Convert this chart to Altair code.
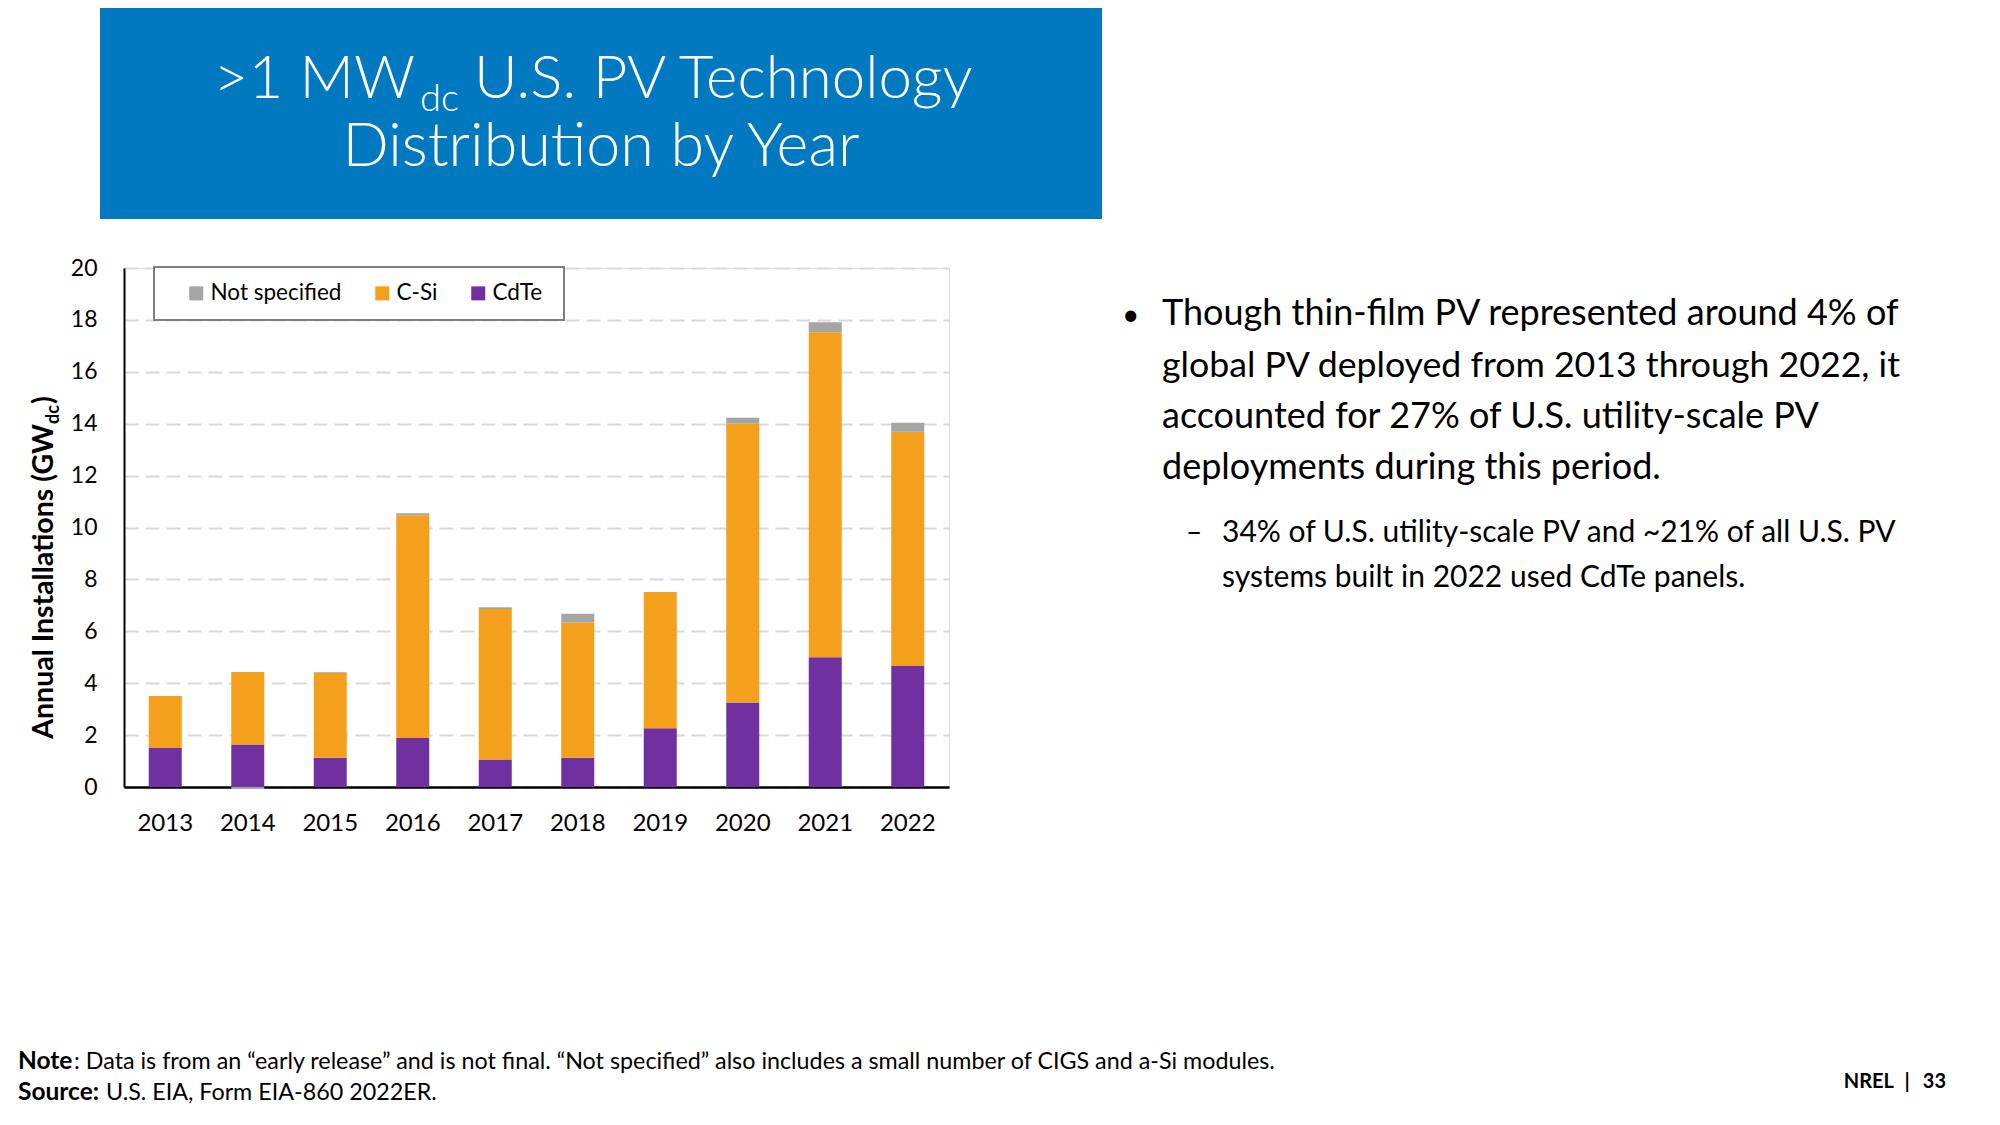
import altair as alt
import pandas as pd

years = ["2013", "2014", "2015", "2016", "2017", "2018", "2019", "2020", "2021", "2022"]
cdte = [1.50, 1.64, 1.13, 1.89, 1.06, 1.13, 2.26, 3.26, 5.00, 4.66]
csi = [2.01, 2.79, 3.26, 8.58, 5.80, 5.21, 5.25, 10.75, 12.52, 9.03]
not_specified = [0.00, -0.08, 0.03, 0.08, 0.07, 0.34, 0.00, 0.22, 0.39, 0.35]
techs = ["Not specified", "C-Si", "CdTe"]
tech_colors = ["#A5A5A5", "#F4A01C", "#7030A0"]
y_ticks = [0, 2, 4, 6, 8, 10, 12, 14, 16, 18, 20]

rows = []
for i, yr in enumerate(years):
    rows.append({"year": yr, "tech": "CdTe", "value": cdte[i], "ord": 0})
    rows.append({"year": yr, "tech": "C-Si", "value": csi[i], "ord": 1})
    rows.append({"year": yr, "tech": "Not specified", "value": not_specified[i], "ord": 2})
df = pd.DataFrame(rows)

FONT = "Lato"
BLUE = "#0079C1"

bars = alt.Chart(df).mark_bar().encode(
    x=alt.X("year:N", sort=years, title=None,
            scale=alt.Scale(paddingInner=0.6, paddingOuter=0.3),
            axis=alt.Axis(labelAngle=0, ticks=False, domainColor="black", domainWidth=2.5,
                          labelFontSize=24, labelFont=FONT, labelColor="black",
                          labelPadding=24, grid=False)),
    y=alt.Y("value:Q", stack="zero", title=None,
            scale=alt.Scale(domain=[0, 20], nice=False),
            axis=alt.Axis(values=y_ticks, ticks=False, domainColor="black", domainWidth=2,
                          labelFontSize=23, labelFont=FONT, labelColor="black", labelPadding=27,
                          grid=True, gridColor="#D9D9D9", gridDash=[14, 7], gridWidth=2)),
    color=alt.Color("tech:N", scale=alt.Scale(domain=techs, range=tech_colors),
                    legend=alt.Legend(title=None, orient="none", legendX=61, legendY=14,
                                      direction="horizontal", symbolType="square",
                                      symbolSize=196, symbolStrokeWidth=0,
                                      labelFontSize=22.5, labelFont=FONT, labelColor="black",
                                      labelOffset=3, columnPadding=29)),
    order=alt.Order("ord:Q", sort="ascending"),
)

one = pd.DataFrame({"a": [0]})

legend_box = alt.Chart(one).mark_rect(fill="white", stroke="#7F7F7F", strokeWidth=2).encode(
    x=alt.value(30), x2=alt.value(440), y=alt.value(-1), y2=alt.value(52))

header = alt.Chart(one).mark_rect(color=BLUE).encode(
    x=alt.value(-24), x2=alt.value(978), y=alt.value(-276), y2=alt.value(-49))


def txt(s, x, y, size, weight="normal", color="black", align="left", angle=0):
    return alt.Chart(pd.DataFrame({"t": [s]})).mark_text(
        align=align, baseline="alphabetic", fontSize=size, fontWeight=weight,
        color=color, font=FONT, angle=angle).encode(
        text="t:N", x=alt.value(x), y=alt.value(y))


texts = [
    # header
    txt(">1 MW", 291, -170, 60, 300, "white", "right"),
    txt("dc", 296, -157, 38, 300, "white"),
    txt("U.S. PV Technology", 350, -170, 60, 300, "white"),
    txt("Distribution by Year", 477, -102, 61, 300, "white", "center"),
    # y axis title
    txt("Annual Installations (GW", -71, 156, 28.5, "bold", "black", "right", 270),
    txt("dc", -65, 156, 18, "bold", "black", "left", 270),
    txt(")", -71, 136, 28.5, "bold", "black", "left", 270),
    # body bullets
    txt("•", 998, 57, 30),
    txt("Though thin-film PV represented around 4% of", 1038, 57, 36),
    txt("global PV deployed from 2013 through 2022, it", 1038, 109, 35.7),
    txt("accounted for 27% of U.S. utility-scale PV", 1038, 160, 36),
    txt("deployments during this period.", 1038, 211, 36),
    txt("–", 1062, 274, 28),
    txt("34% of U.S. utility-scale PV and ~21% of all U.S. PV", 1098, 274, 30),
    txt("systems built in 2022 used CdTe panels.", 1098, 319, 30),
    # footnotes
    txt("Note", -106, 801, 24.5, "bold"),
    txt(": Data is from an \u201cearly release\u201d and is not final. \u201cNot specified\u201d also includes a small number of CIGS and a-Si modules.", -50, 801, 23.3),
    txt("Source:", -106, 832, 24.5, "bold"),
    txt("U.S. EIA, Form EIA-860 2022ER.", -18, 832, 23.3),
    txt("NREL", 1770, 820, 20, "bold", "black", "right"),
    txt("|", 1783, 820, 20, "bold", "black", "center"),
    txt("33", 1822, 820, 20, "bold", "black", "right"),
]

chart = alt.layer(header, bars, legend_box, *texts).properties(
    width=825, height=519,
    padding={"left": 116, "top": 260, "right": 1043, "bottom": 330},
    autosize=alt.AutoSizeParams(type="none"),
).configure_view(strokeWidth=0).configure(background="white")

chart.save("out.html", embed_options={"renderer": "svg", "actions": False})
